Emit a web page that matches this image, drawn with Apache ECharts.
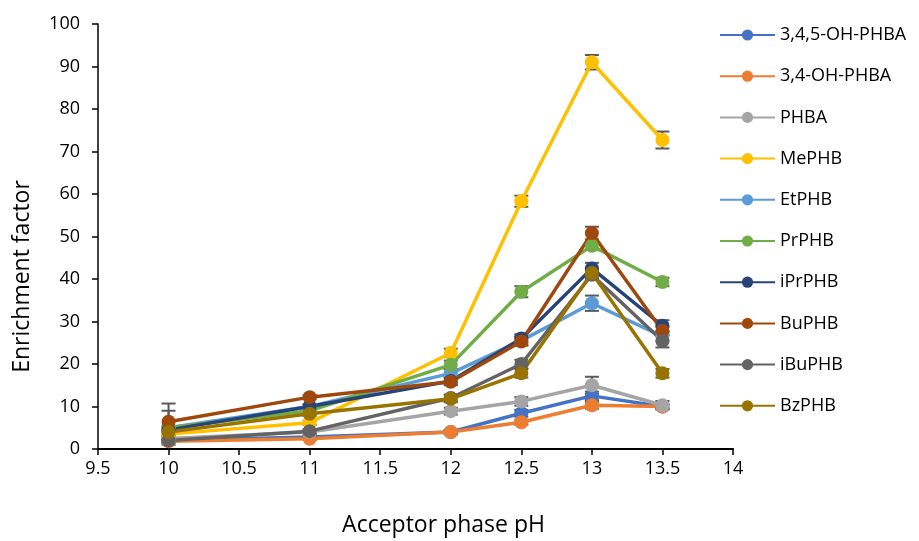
<!DOCTYPE html>
<html><head><meta charset="utf-8">
<script src="https://cdn.jsdelivr.net/npm/echarts@6/dist/echarts.min.js"></script>
<style>html,body{margin:0;padding:0;background:#fff}#c{width:919px;height:541px}</style>
</head><body><div id="c"></div>
<script>
const pH = [10, 11, 12, 12.5, 13, 13.5];
const names = ['3,4,5-OH-PHBA','3,4-OH-PHBA','PHBA','MePHB','EtPHB','PrPHB','iPrPHB','BuPHB','iBuPHB','BzPHB'];
const colors = ['#4472C4','#ED7D31','#A5A5A5','#FFC000','#5B9BD5','#70AD47','#264478','#9E480E','#636363','#997300'];
const v345 = [2.0, 2.8, 4.0, 8.4, 12.5, 10.0];
const v34 = [1.8, 2.4, 4.0, 6.3, 10.3, 10.0];
const vPHBA = [2.5, 4.0, 8.9, 11.2, 15.0, 10.3];
const vMe = [3.5, 6.2, 22.6, 58.3, 91.0, 72.7];
const vEt = [5.0, 10.0, 17.8, 25.5, 34.3, 26.5];
const vPr = [5.0, 9.0, 19.8, 37.0, 47.8, 39.3];
const viPr = [4.5, 10.0, 16.0, 26.0, 42.5, 29.0];
const vBu = [6.4, 12.2, 15.8, 25.3, 50.8, 27.8];
const viBu = [2.0, 4.2, 12.0, 20.0, 41.0, 25.4];
const vBz = [4.0, 8.3, 11.8, 17.8, 41.4, 17.8];
const e345 = [0.3, 0.3, 0.5, 0.8, 1.0, 0.5];
const e34 = [0.3, 0.3, 0.5, 0.6, 0.8, 0.5];
const ePHBA = [0.5, 0.5, 0.8, 1.0, 2.0, 1.0];
const eMe = [0.5, 0.5, 1.0, 1.3, 1.7, 2.0];
const eEt = [4.0, 0.5, 1.0, 1.0, 1.8, 1.0];
const ePr = [0.5, 0.5, 1.0, 1.3, 1.0, 1.0];
const eiPr = [0.5, 0.5, 0.8, 1.0, 1.3, 1.3];
const eBu = [4.3, 0.5, 0.8, 1.0, 1.5, 1.0];
const eiBu = [0.5, 0.5, 0.8, 1.0, 1.0, 1.5];
const eBz = [0.5, 0.5, 0.8, 1.0, 1.0, 1.0];
const yTicks = [0, 10, 20, 30, 40, 50, 60, 70, 80, 90, 100];

const vals = [v345, v34, vPHBA, vMe, vEt, vPr, viPr, vBu, viBu, vBz];
const errs = [e345, e34, ePHBA, eMe, eEt, ePr, eiPr, eBu, eiBu, eBz];
const FONT = '"Open Sans"';

const series = [];
vals.forEach((v, i) => {
  series.push({
    name: names[i], type: 'line', z: 3,
    data: pH.map((x, j) => [x, v[j]]),
    symbol: 'circle', symbolSize: 14,
    lineStyle: {width: 3.5, color: colors[i]},
    itemStyle: {color: colors[i]},
    emphasis: {disabled: true}
  });
});
const errData = [];
vals.forEach((v, i) => pH.forEach((x, j) => errData.push([x, v[j], errs[i][j]])));
series.push({
  type: 'custom', z: 2, silent: true,
  data: errData,
  encode: {x: 0, y: 1},
  renderItem: function (params, api) {
    const x = api.value(0), y = api.value(1), e = api.value(2);
    const top = api.coord([x, y + e]);
    const bot = api.coord([x, y - e]);
    const w = 7;
    const st = {stroke: '#595959', lineWidth: 2};
    return {type: 'group', children: [
      {type: 'line', shape: {x1: top[0], y1: top[1], x2: bot[0], y2: bot[1]}, style: st},
      {type: 'line', shape: {x1: top[0]-w, y1: top[1], x2: top[0]+w, y2: top[1]}, style: st},
      {type: 'line', shape: {x1: bot[0]-w, y1: bot[1], x2: bot[0]+w, y2: bot[1]}, style: st}
    ]};
  }
});

const chart = echarts.init(document.getElementById('c'), null, {renderer: 'canvas'});
chart.setOption({
  animation: false,
  backgroundColor: '#fff',
  textStyle: {fontFamily: FONT},
  grid: {left: 98, right: 186, top: 24, bottom: 92, outerBoundsMode: 'none', containLabel: false},
  legend: {
    data: names, orient: 'vertical', left: 714, top: 21,
    itemWidth: 55, itemHeight: 14, itemGap: 23.2,
    textStyle: {fontFamily: FONT, fontSize: 18, color: '#000', lineHeight: 18},
    itemStyle: {borderWidth: 0}
  },
  xAxis: {
    type: 'value', min: 9.5, max: 14, interval: 0.5,
    name: 'Acceptor phase pH', nameLocation: 'middle', nameGap: 65,
    nameTextStyle: {fontFamily: FONT, fontSize: 23, color: '#000', padding: [0, 0, 0, 56]},
    axisLine: {show: true, lineStyle: {color: '#000', width: 2}},
    axisTick: {show: true, length: 6, lineStyle: {color: '#000', width: 1.5}},
    axisLabel: {fontFamily: FONT, fontSize: 18, color: '#000', margin: 11},
    splitLine: {show: false}
  },
  yAxis: {
    type: 'value', min: yTicks[0], max: yTicks[yTicks.length-1], interval: 10,
    name: 'Enrichment factor', nameLocation: 'middle', nameGap: 64,
    nameTextStyle: {fontFamily: FONT, fontSize: 23, color: '#000', padding: [0, 80, 0, 0]},
    axisLine: {show: true, lineStyle: {color: '#000', width: 1.5}},
    axisTick: {show: true, length: 6, lineStyle: {color: '#000', width: 1.5}},
    axisLabel: {fontFamily: FONT, fontSize: 18, color: '#000', margin: 18},
    splitLine: {show: false}
  },
  series: series
});
</script></body></html>
